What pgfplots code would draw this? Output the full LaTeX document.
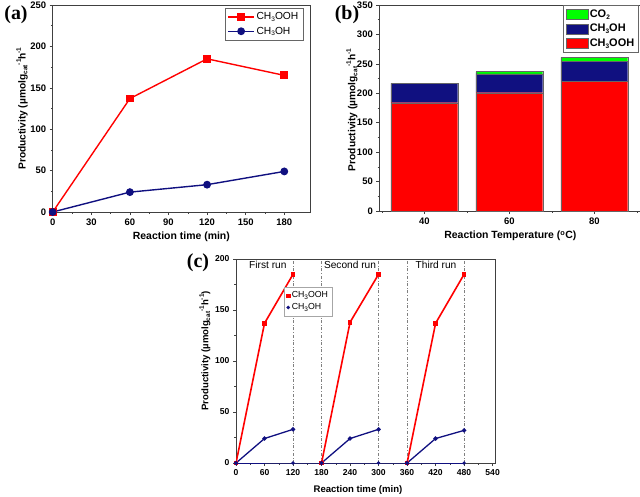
\documentclass[border=0pt]{standalone}
\usepackage{pgfplots}
\pgfplotsset{compat=1.18}
\usepackage{fontspec}
\setmainfont{Liberation Sans}
\newfontfamily\timesfont{Liberation Serif}
\definecolor{myred}{RGB}{255,0,0}
\definecolor{mynavy}{RGB}{16,16,128}
\definecolor{mygreen}{RGB}{0,255,0}
\pgfplotsset{
  common/.style={
    scale only axis, anchor=south west,
    tick align=outside, tick pos=left,
    major tick length=3bp, minor tick length=1.8bp,
    axis line style={black!75, line width=0.6pt},
    every tick/.style={black!75, line width=0.5pt},
    /pgf/number format/assume math mode=true,
    /pgf/number format/1000 sep={},
    tick label style={font=\bfseries\fontsize{9.5}{11}\selectfont},
    label style={font=\bfseries\fontsize{10.5}{12}\selectfont},
  },
}
\newcommand{\sbs}[1]{\raisebox{-0.35ex}{\fontsize{6.5}{7}\selectfont #1}}
\newcommand{\sps}[1]{\raisebox{0.85ex}{\fontsize{6.5}{7}\selectfont #1}}
\newcommand{\prodlabel}{Productivity (µmolg\sbs{cat}\sps{-1}h\sps{-1}}
\begin{document}
\begin{tikzpicture}
\useasboundingbox (0,-497bp) rectangle (640bp,0);
% ---------------- (a)
\begin{axis}[common,
  at={(52.7bp,-212bp)}, width=257.3bp, height=207bp,
  xmin=0, xmax=200, ymin=0, ymax=250,
  xtick={0,30,...,180}, ytick={0,50,...,250},
  minor x tick num=1, minor y tick num=1,
  xlabel={Reaction time (min)},
  ylabel={\fontsize{10.2}{12}\selectfont\prodlabel},
  xlabel style={at={(axis description cs:0.5,-0.12)}, anchor=center},
  ylabel style={at={(axis description cs:-0.119,0.5)}, anchor=center},
  legend style={at={(0.973,0.985)}, anchor=north east, draw=black!60,
    font=\fontsize{10.3}{12}\selectfont, row sep=1.5pt, inner sep=2.5pt},
  legend cell align=left,
  legend image code/.code={\draw[mark repeat=2,mark phase=2,#1] plot coordinates {(0cm,0cm)(0.45cm,0cm)(0.9cm,0cm)};},
]
\addplot[myred, line width=1.4pt, mark=square*, mark size=3.2pt] coordinates {(0,0)(60,137)(120,185)(180,165)};
\addlegendentry{CH\sbs{3}OOH}
\addplot[mynavy, line width=1.4pt, mark=*, mark size=3.2pt] coordinates {(0,0)(60,24)(120,33)(180,49)};
\addlegendentry{CH\sbs{3}OH}
\end{axis}
% ---------------- (b)
\begin{axis}[common,
  at={(379.3bp,-211bp)}, width=262.2bp, height=206bp,
  ybar stacked, bar width=15.7,
  xmin=29.4, xmax=91.1, ymin=0, ymax=350,
  xtick={40,60,80}, minor xtick={30,50,70,90}, ytick={0,50,...,350},
  minor y tick num=1,
  xlabel={Reaction Temperature (\textsuperscript{o}C)},
  ylabel={\fontsize{10.2}{12}\selectfont\prodlabel},
  xlabel style={at={(axis description cs:0.5,-0.122)}, anchor=center},
  ylabel style={at={(axis description cs:-0.104,0.49)}, anchor=center},
  legend style={at={(0.99,1.0)}, anchor=north east, draw=black!60,
    font=\bfseries\fontsize{11}{13}\selectfont, row sep=1.5pt, inner sep=2.5pt},
  legend cell align=left, reverse legend,
  legend image code/.code={\draw[#1] (0bp,-5bp) rectangle (22bp,5bp);},
]
\addplot[fill=myred, draw=black!60, line width=0.3pt] coordinates {(40,184)(60,201)(80,220)};
\addlegendentry{CH\sbs{3}OOH}
\addplot[fill=mynavy, draw=black!60, line width=0.3pt] coordinates {(40,33)(60,32)(80,34)};
\addlegendentry{CH\sbs{3}OH}
\addplot[fill=mygreen, draw=black!60, line width=0.3pt] coordinates {(40,0)(60,4)(80,7)};
\addlegendentry{CO\sbs{2}}
\end{axis}
% ---------------- (c)
\begin{axis}[common,
  at={(236bp,-463bp)}, width=259bp, height=204bp,
  xmin=0, xmax=545, ymin=0, ymax=200,
  xtick={0,60,...,540}, ytick={0,50,...,200},
  minor x tick num=1, minor y tick num=1,
  tick label style={font=\bfseries\fontsize{8.6}{10}\selectfont},
  label style={font=\bfseries\fontsize{9.6}{11}\selectfont},
  xlabel={Reaction time (min)},
  ylabel={Productivity (µmolg\sbs{cat}\sps{-1}h\sps{-1})},
  xlabel style={at={(axis description cs:0.471,-0.13)}, anchor=center},
  ylabel style={at={(axis description cs:-0.12,0.55)}, anchor=center},
  legend style={at={(0.185,0.863)}, anchor=north west, draw=black!35,
    font=\fontsize{8.8}{10}\selectfont, row sep=0.5pt, inner sep=2.5pt, fill=white},
  legend cell align=left,
  unbounded coords=jump,
]
\addplot[gray, dash dot, line width=0.4pt, forget plot] coordinates {(120,0)(120,200)};
\addplot[gray, dash dot, line width=0.4pt, forget plot] coordinates {(180,0)(180,200)};
\addplot[gray, dash dot, line width=0.4pt, forget plot] coordinates {(300,0)(300,200)};
\addplot[gray, dash dot, line width=0.4pt, forget plot] coordinates {(360,0)(360,200)};
\addplot[gray, dash dot, line width=0.4pt, forget plot] coordinates {(480,0)(480,200)};
\addplot[mynavy, line width=0.8pt, mark=*, mark size=1.3pt, forget plot] coordinates {(0,0)(120,0)(180,0)(300,0)(360,0)(480,0)};
\addplot[myred, line width=1.6pt, mark=square*, mark size=1.5pt, forget plot] coordinates {(0,0)(60,137)(120,185)(150,nan)(180,0)(240,138)(300,185)(330,nan)(360,0)(420,137)(480,185)};
\addplot[mynavy, line width=1.3pt, mark=*, mark size=1.5pt, forget plot] coordinates {(0,0)(60,24)(120,33)(150,nan)(180,0)(240,24)(300,33)(330,nan)(360,0)(420,24)(480,32)};
\addlegendimage{only marks, mark=square*, myred, mark size=1.6pt}
\addlegendentry{CH\sbs{3}OOH}
\addlegendimage{only marks, mark=*, mynavy, mark size=1.6pt}
\addlegendentry{CH\sbs{3}OH}
\node[font=\fontsize{10.2}{12}\selectfont] at (axis cs:67,194) {First run};
\node[font=\fontsize{10.2}{12}\selectfont] at (axis cs:240,194) {Second run};
\node[font=\fontsize{10.2}{12}\selectfont] at (axis cs:421,194) {Third run};
\end{axis}
% panel labels
\node[font=\timesfont\bfseries\fontsize{20}{22}\selectfont] at (16bp,-15bp) {(a)};
\node[font=\timesfont\bfseries\fontsize{20}{22}\selectfont] at (347bp,-15bp) {(b)};
\node[font=\timesfont\bfseries\fontsize{20}{22}\selectfont] at (198bp,-263bp) {(c)};
\end{tikzpicture}
\end{document}
